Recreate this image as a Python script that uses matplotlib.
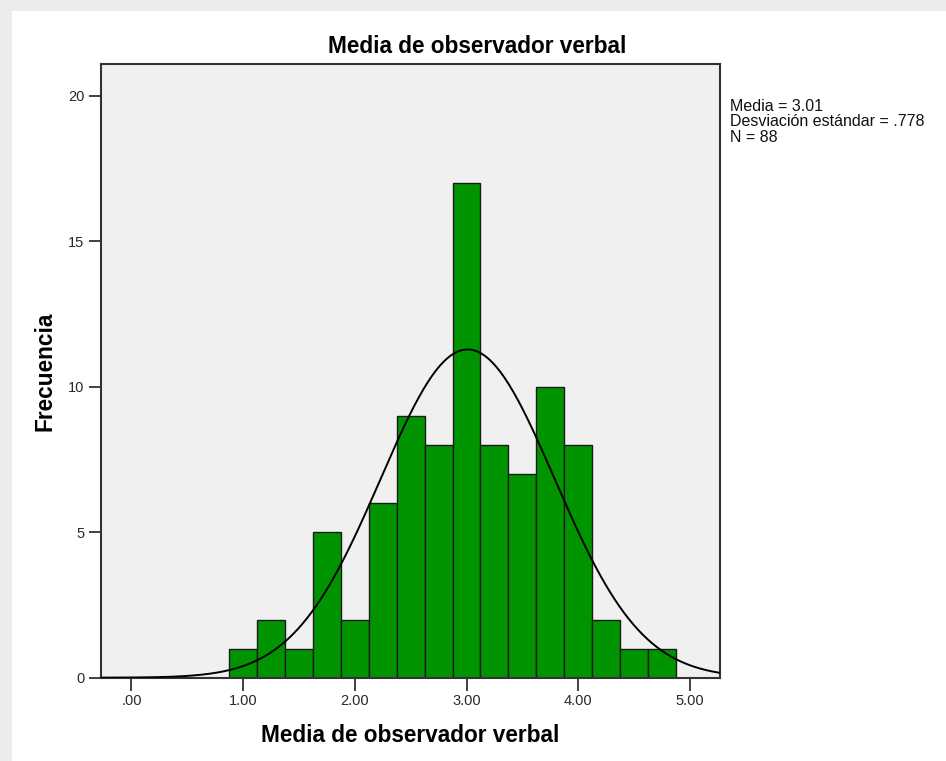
import numpy as np
import matplotlib
matplotlib.use('agg')
from matplotlib import pyplot as plt
from matplotlib.patches import Rectangle

plt.rcParams['font.family'] = ['Liberation Sans', 'DejaVu Sans']

# histogram data
bin_centers = [1.00, 1.25, 1.50, 1.75, 2.00, 2.25, 2.50, 2.75,
               3.00, 3.25, 3.50, 3.75, 4.00, 4.25, 4.50, 4.75]
counts = [1, 2, 1, 5, 2, 6, 9, 8, 17, 8, 7, 10, 8, 2, 1, 1]
bin_width = 0.25

mean = 3.01
sd = 0.778
n = 88

x_ticks = [0, 1, 2, 3, 4, 5]
x_labels = ['.00', '1.00', '2.00', '3.00', '4.00', '5.00']
y_ticks = [0, 5, 10, 15, 20]

fig = plt.figure(figsize=(9.46, 7.61), dpi=100)
fig.patch.set_facecolor('white')

# light grey frame of the screenshot (top and left)
fig.add_artist(Rectangle((0, 0), 12 / 946, 1, transform=fig.transFigure,
                         facecolor='#ececec', edgecolor='none', zorder=-5))
fig.add_artist(Rectangle((0, 1 - 11 / 761), 1, 11 / 761, transform=fig.transFigure,
                         facecolor='#ececec', edgecolor='none', zorder=-5))

ax = fig.add_axes([101 / 946, 1 - 677.7 / 761, (720 - 101) / 946, (677.7 - 64) / 761])
ax.set_facecolor('#f0f0f0')

ax.bar(bin_centers, counts, width=bin_width, color='#009500',
       edgecolor='#1a1a1a', linewidth=1.0, zorder=2)

xlim = (-0.273, 5.27)
xs = np.linspace(xlim[0], xlim[1], 400)
ys = n * bin_width / (sd * np.sqrt(2 * np.pi)) * np.exp(-0.5 * ((xs - mean) / sd) ** 2)
ax.plot(xs, ys, color='black', linewidth=1.4, zorder=3)

ax.set_xlim(*xlim)
ax.set_ylim(0, 21.09)
ax.set_xticks(x_ticks)
ax.set_xticklabels(x_labels)
ax.set_yticks(y_ticks)

for s in ax.spines.values():
    s.set_color('#333333')
    s.set_linewidth(1.5)

ax.tick_params(axis='both', direction='out', length=9, width=1.3,
               color='#333333', labelsize=10.5, labelcolor='#2a2a2a', pad=3)

# title is centred over the whole chart (plot + stats box)
fig.text(477 / 946, 1 - 53 / 761, 'Media de observador verbal',
         fontsize=16.3, fontweight='bold', ha='center', va='baseline')

ax.set_xlabel('Media de observador verbal', fontsize=16.3, fontweight='bold', va='center')
ax.xaxis.set_label_coords(0.5, -0.0934)
ax.set_ylabel('Frecuencia', fontsize=16.3, fontweight='bold', va='center')
ax.yaxis.set_label_coords(-0.0897, 0.5)

fig.text(730 / 946, 1 - 99 / 761,
         'Media = 3.01\nDesviación estándar = .778\nN = 88',
         fontsize=11.5, va='top', ha='left', linespacing=1.03, color='#111111')

fig.savefig('out.png', dpi=100)
